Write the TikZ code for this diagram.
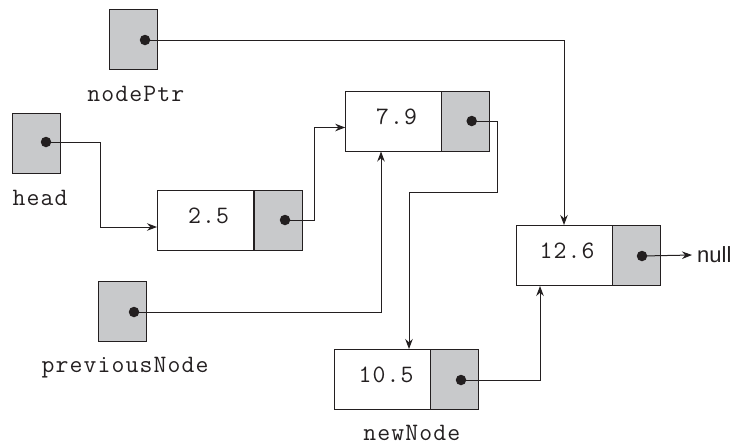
\documentclass[tikz,border=0pt]{standalone}
\usepackage{fontspec}
\setmonofont[LetterSpace=4.5]{Latin Modern Mono}
\setsansfont{Liberation Sans}
\usetikzlibrary{arrows.meta}
\definecolor{boxgray}{RGB}{200,201,203}
\definecolor{ink}{RGB}{35,31,32}
\begin{document}
\begin{tikzpicture}[x=1pt,y=-1pt,
  databox/.style={draw=ink, fill=white, line width=1pt, minimum width=96pt, minimum height=60pt, inner sep=0pt},
  ptrbox/.style={draw=ink, fill=boxgray, line width=1pt, minimum width=48pt, minimum height=60pt, inner sep=0pt},
  ptrdot/.style={circle, fill=ink, inner sep=0pt, minimum size=10.5pt},
  valtext/.style={inner sep=0pt, font=\ttfamily\fontsize{25}{28}\selectfont, text=ink},
  vartext/.style={inner sep=0pt, anchor=base, font=\ttfamily\fontsize{25}{28}\selectfont, text=ink},
  link/.style={draw=ink, line width=1pt, -{Stealth[length=10pt,width=7.5pt]}}
]
\useasboundingbox (0,0) rectangle (736,445);

% pointer variables
\node[ptrbox] (nodePtr) at (133.5,39) {};
\node[ptrbox] (head) at (36,143) {};
\node[ptrbox] (prev) at (122.5,311.5) {};
\node[ptrdot] (dn) at (145,40) {};
\node[ptrdot] (dh) at (46,142) {};
\node[ptrdot] (dp) at (134,312) {};
\node[vartext] (lnodePtr) at (135.8,101.7) {nodePtr};
\node[vartext] (lhead) at (40,205) {head};
\node[vartext] (lprev) at (125,372.5) {previousNode};
\node[vartext] (lnew) at (411.7,440) {newNode};

% list nodes
\node[databox] (n25) at (205.5,220) {};
\node[ptrbox] (p25) at (278,220) {};
\node[ptrdot] (d25) at (285,220) {};
\node[valtext] (t25) at (208.5,215.5) {2.5};

\node[databox] (n79) at (393.7,121) {};
\node[ptrbox] (p79) at (465.5,121) {};
\node[ptrdot] (d79) at (471.7,121) {};
\node[valtext] (t79) at (396.5,116.5) {7.9};

\node[databox] (n126) at (564,255.5) {};
\node[ptrbox] (p126) at (636,255.5) {};
\node[ptrdot] (d126) at (642,256) {};
\node[valtext] (t126) at (567,251) {12.6};

\node[databox] (n105) at (382.7,379.5) {};
\node[ptrbox] (p105) at (454.7,379.5) {};
\node[ptrdot] (d105) at (461,380) {};
\node[valtext] (t105) at (386,375) {10.5};

\node[anchor=west, inner sep=0pt, inner xsep=5pt, font=\sffamily\fontsize{22}{26}\selectfont, text=ink] (null) at (692,255) {null};

% bend points
\coordinate (bh) at (100,0);
\coordinate (b25) at (314,0);
\coordinate (c1) at (497,192);
\coordinate (c2) at (409,192);
\coordinate (c3) at (381,0);
\coordinate (c4) at (540,0);

% connectors
\draw[link] (dh.center) -- (dh.center -| bh) |- ([yshift=-7pt]n25.west);
\draw[link] (d25.center) -- (d25.center -| b25) |- ([yshift=-6.5pt]n79.west);
\draw[link] (d79.center) -| (c1) -- (c2) -- (c2 |- n105.north);
\draw[link] (dp.center) -| (c3 |- n79.south);
\draw[link] (dn.center) -| (n126.north);
\draw[link] (d105.center) -| (c4 |- n126.south);
\draw[link] (d126.center) -- (null.west);
\end{tikzpicture}
\end{document}
